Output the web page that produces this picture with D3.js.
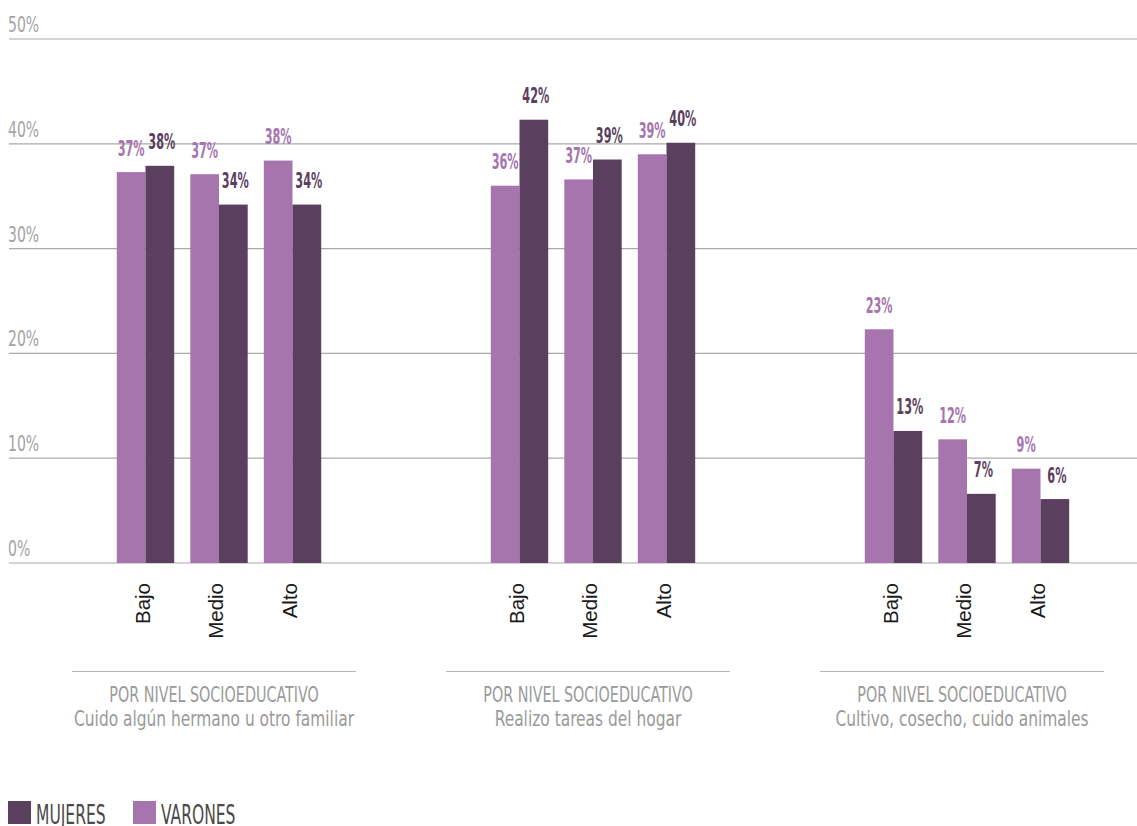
<!DOCTYPE html>
<html>
<head>
<meta charset="utf-8">
<script src="https://cdn.jsdelivr.net/npm/d3@7"></script>
<style>
  html, body { margin: 0; padding: 0; background: #fff; }
  svg { display: block; }
  .cond { font-family: "DejaVu Sans Condensed", "DejaVu Sans", sans-serif; }
</style>
</head>
<body>
<svg id="chart" width="1137" height="826"></svg>
<script>
// ---- data ----
const groups = ["Cuido algún hermano u otro familiar", "Realizo tareas del hogar", "Cultivo, cosecho, cuido animales"];
const groupHeader = "POR NIVEL SOCIOEDUCATIVO";
const levels = ["Bajo", "Medio", "Alto"];
const series = ["VARONES", "MUJERES"];
const varones = [[37.3, 37.1, 38.4], [36.0, 36.6, 39.0], [22.3, 11.8, 9.0]];
const mujeres = [[37.9, 34.2, 34.2], [42.3, 38.5, 40.1], [12.6, 6.6, 6.1]];
const varonesLabels = [["37%", "37%", "38%"], ["36%", "37%", "39%"], ["23%", "12%", "9%"]];
const mujeresLabels = [["38%", "34%", "34%"], ["42%", "39%", "40%"], ["13%", "7%", "6%"]];
const yTicks = [0, 10, 20, 30, 40, 50];
const legendItems = ["MUJERES", "VARONES"];

const colors = { VARONES: "#a675ae", MUJERES: "#5b3f5e" };

const svg = d3.select("#chart");
const W = 1137;

const y = d3.scaleLinear().domain([0, 50]).range([563, 39]);
const gx = d3.scalePoint().domain(groups).range([219, 967]);
const lx = d3.scaleBand().domain(levels).range([-110.25, 110.25]).padding(0);
const sx = d3.scaleBand().domain(series).range([-28.7, 28.7]).padding(0);

// horizontally condensed text helper
function cond(sel, xf, yf, k) {
  return sel.attr("class", "cond")
    .attr("transform", (d, i) => `translate(${xf(d, i)},${yf(d, i)}) scale(${k},1)`);
}

// gridlines + y labels
const yAxis = svg.append("g");
yAxis.selectAll("line").data(yTicks).join("line")
  .attr("x1", 9).attr("x2", W)
  .attr("y1", d => y(d)).attr("y2", d => y(d))
  .attr("stroke", "#a9a9a9").attr("stroke-width", 1.2);
cond(yAxis.selectAll("text").data(yTicks).join("text"), () => 8, d => y(d) - 7, 0.76)
  .attr("font-size", 20.5).attr("fill", "#a3a3a3")
  .text(d => d + "%");

// bars
const rows = [];
groups.forEach((g, gi) => levels.forEach((l, li) => {
  rows.push({ g, l, s: "VARONES", v: varones[gi][li], lab: varonesLabels[gi][li] });
  rows.push({ g, l, s: "MUJERES", v: mujeres[gi][li], lab: mujeresLabels[gi][li] });
}));

const barX = d => gx(d.g) + lx(d.l) + lx.bandwidth() / 2 + sx(d.s);

svg.append("g").selectAll("rect").data(rows).join("rect")
  .attr("x", barX)
  .attr("y", d => y(d.v))
  .attr("width", sx.bandwidth())
  .attr("height", d => y(0) - y(d.v))
  .attr("fill", d => colors[d.s]);

cond(svg.append("g").selectAll("text").data(rows).join("text"),
    d => barX(d) + sx.bandwidth() / 2 + (d.s === "MUJERES" ? 2 : 0),
    d => y(d.v) - 16.5, 0.57)
  .attr("text-anchor", "middle")
  .attr("font-size", 22).attr("font-weight", "bold")
  .attr("fill", d => colors[d.s])
  .text(d => d.lab);

// category labels (rotated)
const cats = [];
groups.forEach(g => levels.forEach(l => cats.push({ g, l })));
svg.append("g").selectAll("text").data(cats).join("text")
  .attr("transform", d => `translate(${gx(d.g) + lx(d.l) + lx.bandwidth() / 2 + 4},583) rotate(-90)`)
  .attr("text-anchor", "end")
  .attr("font-family", "Liberation Sans, Arial, sans-serif")
  .attr("font-size", 20.5).attr("fill", "#1a1a1a")
  .text(d => d.l);

// group captions
const cap = svg.append("g").selectAll("g").data(groups).join("g")
  .attr("transform", d => `translate(${gx(d) - 5},0)`);
cap.append("line")
  .attr("x1", -142).attr("x2", 142).attr("y1", 671.5).attr("y2", 671.5)
  .attr("stroke", "#b5b5b5").attr("stroke-width", 1.2);
cond(cap.append("text"), () => 0, () => 701.5, 0.724)
  .attr("text-anchor", "middle")
  .attr("font-size", 22).attr("fill", "#9a9a9a")
  .text(groupHeader);
cond(cap.append("text"), () => 0, () => 725.5, 0.78)
  .attr("text-anchor", "middle")
  .attr("font-size", 22).attr("fill", "#9a9a9a")
  .text(d => d);

// legend
const legX = d3.scalePoint().domain(legendItems).range([8, 133]);
const leg = svg.append("g").selectAll("g").data(legendItems).join("g")
  .attr("transform", d => `translate(${legX(d)},801)`);
leg.append("rect").attr("width", 23).attr("height", 23)
  .attr("fill", d => colors[d]);
cond(leg.append("text"), () => 28, () => 23, 0.64)
  .attr("font-size", 27).attr("fill", "#4a4a4a")
  .text(d => d);
</script>
</body>
</html>
